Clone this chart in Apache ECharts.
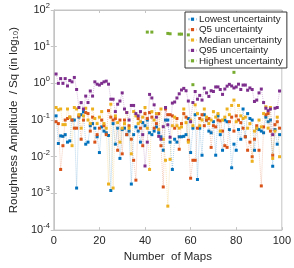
<!DOCTYPE html>
<html><head><meta charset="utf-8">
<script src="https://cdn.jsdelivr.net/npm/echarts@6/dist/echarts.min.js"></script>
<style>html,body{margin:0;padding:0;background:#fff}#c{width:294px;height:268px}</style>
</head><body><div id="c"></div>
<script>
const lowest = [0.13,0.023,0.037,0.036,0.04,0.025,0.027,0.1,0.1,0.0014,0.12,0.14,0.17,0.022,0.025,0.07,0.08,0.06,0.035,0.013,0.065,0.05,0.045,0.038,0.0012,0.08,0.022,0.06,0.009,0.055,0.06,0.04,0.05,0.0018,0.04,0.065,0.05,0.025,0.085,0.07,0.1,0.045,0.04,0.05,0.065,0.045,0.035,0.015,0.1,0.1,0.025,0.0045,0.03,0.025,0.035,0.035,0.036,0.04,0.11,0.013,0.06,0.14,0.0024,0.06,0.011,0.14,0.1,0.05,0.045,0.09,0.011,0.13,0.04,0.015,0.1,0.09,0.055,0.005,0.022,0.015,0.055,0.03,0.2,0.035,0.15,0.11,0.1,0.015,0.06,0.055,0.05,0.045,0.12,0.09,0.1,0.0055,0.055,0.022,0.04];
const q5 = [0.09,0.08,0.0045,0.02,0.1,0.11,0.12,0.1,0.06,0.06,0.13,0.03,0.1,0.16,0.15,0.05,0.12,0.025,0.04,0.06,0.1,0.07,0.04,0.18,0.12,0.1,0.11,0.015,0.1,0.012,0.1,0.04,0.07,0.03,0.008,0.0023,0.11,0.06,0.02,0.15,0.11,0.16,0.12,0.06,0.08,0.15,0.02,0.0015,0.2,0.14,0.14,0.13,0.06,0.11,0.016,0.08,0.15,0.12,0.028,0.0026,0.008,0.008,0.06,0.11,0.14,0.07,0.1,0.11,0.018,0.07,0.065,0.1,0.095,0.05,0.02,0.018,0.09,0.12,0.05,0.13,0.1,0.085,0.06,0.035,0.015,0.025,0.01,0.03,0.07,0.015,0.0016,0.065,0.14,0.15,0.05,0.011,0.075,0.09,0.06];
const median = [0.22,0.19,0.2,0.075,0.075,0.2,0.12,0.02,0.22,0.2,0.14,0.06,0.13,0.21,0.1,0.08,0.2,0.11,0.08,0.12,0.17,0.08,0.06,0.0018,0.27,0.0014,0.13,0.085,0.025,0.06,0.08,0.16,0.06,0.012,0.17,0.13,0.08,0.09,0.12,0.22,0.06,0.0045,0.17,0.1,0.15,0.055,0.2,0.03,0.008,0.00045,0.0085,0.07,0.12,0.07,0.06,0.065,0.2,0.085,0.025,0.1,0.07,0.26,0.15,0.07,0.1,0.2,0.12,0.08,0.1,0.17,0.12,0.15,0.05,0.1,0.12,0.2,0.14,0.25,0.35,0.09,0.25,0.13,0.11,0.12,0.06,0.08,0.0075,0.05,0.06,0.1,0.065,0.15,0.23,0.06,0.22,0.009,0.05,0.12,0.01];
const q95 = [1.8,1.0,1.35,1.0,1.35,0.85,1.2,1.1,1.45,0.68,0.22,0.3,0.2,0.45,0.3,0.62,0.45,1.1,0.95,0.9,1.0,1.1,1.15,0.95,0.37,0.37,0.17,0.27,0.33,0.55,0.2,0.16,0.1,0.25,0.25,0.15,0.13,0.17,0.04,0.0056,0.025,0.5,0.4,0.26,0.12,0.036,0.03,0.066,0.22,0.074,0.034,0.29,0.31,0.4,0.52,0.66,0.73,0.63,0.33,0.09,0.3,0.6,0.37,0.47,0.35,0.74,0.55,0.44,0.63,0.6,0.8,0.8,0.68,0.5,0.7,0.84,0.94,0.85,0.75,0.8,0.95,0.68,0.9,0.9,0.65,0.75,0.68,0.32,0.35,0.55,0.7,0.3,0.21,0.18,0.2,0.04,0.21,0.22,0.62];
const highestX = [41,43,50,51,55,56,59,61,79];
const highestY = [25,25,23,22.5,22,22,21,0.92,2.0];
const xTicks = [0,20,40,60,80,100];
const names = ['Lowest uncertainty','Q5 uncertainty','Median uncertainty','Q95 uncertainty','Highest uncertainty'];
const colors = ['#0072BD','#D95319','#EDB120','#7E2F8E','#77AC30'];

function pairs(arr){ return arr.map((v,i)=>[i+1,v]); }
const highest = [];
for (let i=1;i<=99;i++){ const k = highestX.indexOf(i); highest.push([i, k>=0 ? highestY[k] : null]); }
const allData = [pairs(lowest),pairs(q5),pairs(median),pairs(q95),highest];

const font = 'Liberation Sans, Arial, sans-serif';
const chart = echarts.init(document.getElementById('c'));
chart.setOption({
  animation:false,
  backgroundColor:'#fff',
  textStyle:{fontFamily:font},
  grid:{left:42,right:11,top:10,bottom:31,show:true,borderColor:'#c4c4c4',borderWidth:1},
  legend:{
    orient:'vertical', left:185, top:12, itemGap:0, padding:[2,4,2,2],
    itemWidth:9, itemHeight:4,
    backgroundColor:'#fff', borderColor:'#333', borderWidth:1, borderRadius:0,
    textStyle:{fontSize:9.8, color:'#262626', lineHeight:10.4, fontFamily:font, padding:[0,0,0,-3]},
    data:names
  },
  xAxis:[{
    type:'value', min:0, max:100, interval:20,
    name:'Number  of Maps', nameLocation:'middle', nameGap:15,
    nameTextStyle:{fontSize:11.5,color:'#262626',fontFamily:font},
    axisLine:{show:true,lineStyle:{color:'#c4c4c4'}},
    axisTick:{show:true,inside:true,length:3,lineStyle:{color:'#c4c4c4'}},
    axisLabel:{fontSize:11,color:'#262626',margin:5,fontFamily:font,
      formatter:v=>xTicks.indexOf(v)>=0?String(v):''},
    splitLine:{show:false}
  },{
    type:'value', min:0, max:100, interval:20, position:'top',
    axisLine:{show:true,lineStyle:{color:'#c4c4c4'}},
    axisTick:{show:true,inside:true,length:3,lineStyle:{color:'#c4c4c4'}},
    axisLabel:{show:false}, splitLine:{show:false}
  }],
  yAxis:[{
    type:'log', logBase:10, min:1e-4, max:100, interval:1,
    name:'Roughness Amplitude  / Sq (in log\u2081\u2080)', nameLocation:'middle', nameGap:26,
    nameTextStyle:{fontSize:11.5,color:'#262626',fontFamily:font},
    axisLine:{show:true,lineStyle:{color:'#c4c4c4'}},
    axisTick:{show:true,inside:true,length:3,lineStyle:{color:'#c4c4c4'}},
    axisLabel:{margin:4,fontFamily:font,
      formatter:v=>'{b|10}{s|'+Math.round(Math.log10(v))+'}',
      rich:{b:{fontSize:11,color:'#262626',fontFamily:font},
            s:{fontSize:7.5,color:'#262626',fontFamily:font,padding:[0,0,8,0]}}},
    splitLine:{show:false}
  },{
    type:'log', logBase:10, min:1e-4, max:100, interval:1, position:'right',
    axisLine:{show:true,lineStyle:{color:'#c4c4c4'}},
    axisTick:{show:true,inside:true,length:3,lineStyle:{color:'#c4c4c4'}},
    axisLabel:{show:false}, splitLine:{show:false}
  }],
  series: allData.map((d,k)=>({
    name:names[k], type:'line', data:d, xAxisIndex:0, yAxisIndex:0,
    symbol:'rect', symbolSize:3, showSymbol:true, connectNulls:false,
    itemStyle:{color:colors[k]},
    lineStyle:{color:colors[k],width:1,type:'dotted',opacity:0.3},
    z:2+k
  }))
});
</script></body></html>
